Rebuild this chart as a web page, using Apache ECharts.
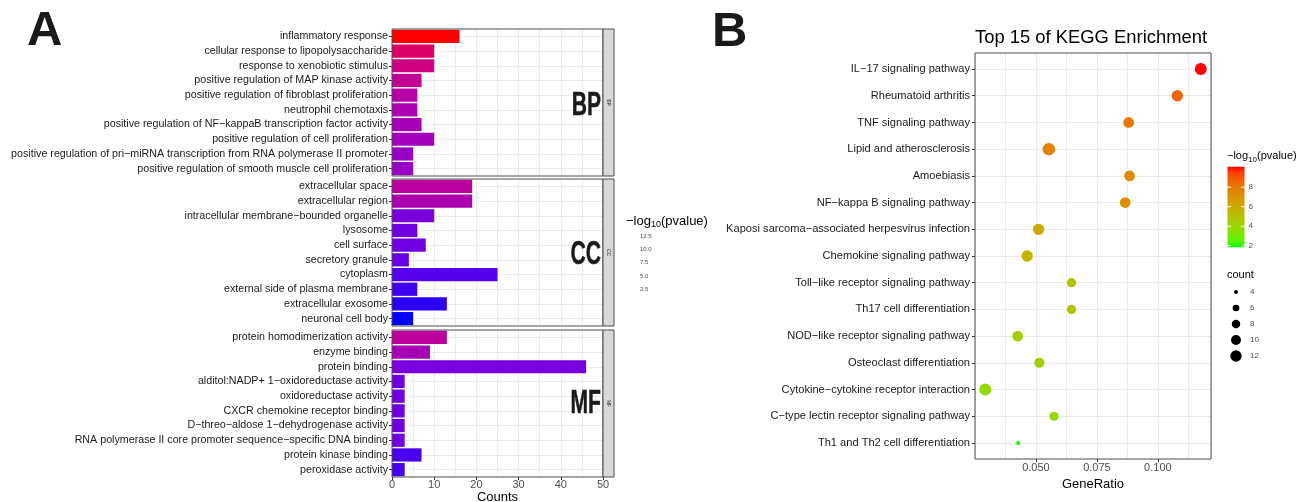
<!DOCTYPE html>
<html>
<head>
<meta charset="utf-8">
<script src="https://cdn.jsdelivr.net/npm/echarts@6/dist/echarts.min.js"></script>
<style>
  html, body { margin: 0; padding: 0; background: #fff; }
  #chart { width: 1297px; height: 502px; }
</style>
</head>
<body>
<div id="chart"></div>
<script>
// ---- panel A: GO terms, counts and -log10(p) per ontology ----
const bpTerms = [
  'inflammatory response',
  'cellular response to lipopolysaccharide',
  'response to xenobiotic stimulus',
  'positive regulation of MAP kinase activity',
  'positive regulation of fibroblast proliferation',
  'neutrophil chemotaxis',
  'positive regulation of NF\u2212kappaB transcription factor activity',
  'positive regulation of cell proliferation',
  'positive regulation of pri\u2212miRNA transcription from RNA polymerase II promoter',
  'positive regulation of smooth muscle cell proliferation'
];
const bpCounts = [16, 10, 10, 7, 6, 6, 7, 10, 5, 5];
const bpLogP = [13.4, 9.24, 7.81, 6.86, 5.90, 5.31, 5.07, 4.83, 4.36, 4.36];

const ccTerms = [
  'extracellular space',
  'extracellular region',
  'intracellular membrane\u2212bounded organelle',
  'lysosome',
  'cell surface',
  'secretory granule',
  'cytoplasm',
  'external side of plasma membrane',
  'extracellular exosome',
  'neuronal cell body'
];
const ccCounts = [19, 19, 10, 6, 8, 4, 25, 6, 13, 5];
const ccLogP = [6.26, 5.43, 3.17, 2.93, 2.93, 2.69, 2.33, 2.10, 1.92, 1.5];

const mfTerms = [
  'protein homodimerization activity',
  'enzyme binding',
  'protein binding',
  'alditol:NADP+ 1\u2212oxidoreductase activity',
  'oxidoreductase activity',
  'CXCR chemokine receptor binding',
  'D\u2212threo\u2212aldose 1\u2212dehydrogenase activity',
  'RNA polymerase II core promoter sequence\u2212specific DNA binding',
  'protein kinase binding',
  'peroxidase activity'
];
const mfCounts = [13, 9, 46, 3, 3, 3, 3, 3, 7, 3];
const mfLogP = [6.50, 5.07, 3.17, 2.93, 2.93, 2.93, 2.93, 2.93, 2.21, 2.15];

const legendATicks = [12.5, 10.0, 7.5, 5.0, 2.5];

// ---- panel B: KEGG pathways ----
const keggTerms = [
  'IL\u221217 signaling pathway',
  'Rheumatoid arthritis',
  'TNF signaling pathway',
  'Lipid and atherosclerosis',
  'Amoebiasis',
  'NF\u2212kappa B signaling pathway',
  'Kaposi sarcoma\u2212associated herpesvirus infection',
  'Chemokine signaling pathway',
  'Toll\u2212like receptor signaling pathway',
  'Th17 cell differentiation',
  'NOD\u2212like receptor signaling pathway',
  'Osteoclast differentiation',
  'Cytokine\u2212cytokine receptor interaction',
  'C\u2212type lectin receptor signaling pathway',
  'Th1 and Th2 cell differentiation'
];
const keggRatio = [0.1176, 0.108, 0.088, 0.0553, 0.0884, 0.0866, 0.0511, 0.0464, 0.0646, 0.0646, 0.0425, 0.0514, 0.0292, 0.0574, 0.0427];
const keggCount = [13, 12, 11, 14, 11, 11, 12, 12, 9, 9, 11, 10, 13, 9, 4];
const keggLogP = [10.1, 8.6, 8.05, 7.64, 7.31, 7.15, 6.0, 5.59, 5.02, 5.0, 4.36, 4.36, 3.7, 3.87, 1.84];

const ratioTicks = [0.05, 0.075, 0.1];
const legendBTicks = [8, 6, 4, 2];
const sizeTicks = [4, 6, 8, 10, 12];

// ---- helpers ----
const FONT = '"Liberation Sans", Arial, sans-serif';

// ggplot style gradient: interpolate in Lab space
function toLab(hex) {
  const lin = [1, 3, 5].map(i => parseInt(hex.substr(i, 2), 16) / 255)
    .map(c => c <= 0.04045 ? c / 12.92 : Math.pow((c + 0.055) / 1.055, 2.4));
  const [r, g, b] = lin;
  const x = (0.4124 * r + 0.3576 * g + 0.1805 * b) / 0.95047;
  const y = 0.2126 * r + 0.7152 * g + 0.0722 * b;
  const z = (0.0193 * r + 0.1192 * g + 0.9505 * b) / 1.08883;
  const f = t => t > 0.008856 ? Math.cbrt(t) : 7.787 * t + 16 / 116;
  return [116 * f(y) - 16, 500 * (f(x) - f(y)), 200 * (f(y) - f(z))];
}
function fromLab(lab) {
  const fy = (lab[0] + 16) / 116, fx = fy + lab[1] / 500, fz = fy - lab[2] / 200;
  const g = t => t * t * t > 0.008856 ? t * t * t : (t - 16 / 116) / 7.787;
  const x = g(fx) * 0.95047, y = g(fy), z = g(fz) * 1.08883;
  const rgb = [
    3.2406 * x - 1.5372 * y - 0.4986 * z,
    -0.9689 * x + 1.8758 * y + 0.0415 * z,
    0.0557 * x - 0.2040 * y + 1.0570 * z
  ].map(v => {
    v = Math.max(0, Math.min(1, v));
    v = v <= 0.0031308 ? 12.92 * v : 1.055 * Math.pow(v, 1 / 2.4) - 0.055;
    return Math.round(v * 255);
  });
  return 'rgb(' + rgb.join(',') + ')';
}
function labRamp(lo, hi, n) {
  const a = toLab(lo), b = toLab(hi);
  const out = [];
  for (let i = 0; i < n; i++) {
    const t = i / (n - 1);
    out.push(fromLab(a.map((v, k) => v + (b[k] - v) * t)));
  }
  return out;
}
const rampA = labRamp('#0000FF', '#FF0000', 15);
const rampB = labRamp('#00FF00', '#FF0000', 15);

// dot diameter from count (area scale)
const dotSize = c => Math.sqrt(Math.max(1, 14 * c - 40));

const ctx = document.createElement('canvas').getContext('2d');
function textW(str, size) {
  ctx.font = size + 'px ' + FONT;
  return ctx.measureText(str).width;
}

// ---- layout ----
const A_LEFT = 392, A_W = 211, A_H = 147;
const A_TOPS = [29, 179, 330];
const B_LEFT = 975, B_TOP = 53, B_W = 236, B_H = 406;

const facets = [
  {name: 'BP', terms: bpTerms, counts: bpCounts, logp: bpLogP, labelY: 106},
  {name: 'CC', terms: ccTerms, counts: ccCounts, logp: ccLogP, labelY: 255},
  {name: 'MF', terms: mfTerms, counts: mfCounts, logp: mfLogP, labelY: 404}
];

const grids = A_TOPS.map(t => ({left: A_LEFT, top: t, width: A_W, height: A_H, outerBoundsMode: 'none'}));
grids.push({left: B_LEFT, top: B_TOP, width: B_W, height: B_H, outerBoundsMode: 'none'});

const gridLine = {show: true, lineStyle: {color: '#EBEBEB', width: 1}};
const tickLine = {color: '#333'};

const xAxes = [];
facets.forEach((f, i) => {
  xAxes.push({
    type: 'value', gridIndex: i, position: 'bottom', min: 0, max: 50, interval: 5,
    splitLine: gridLine, axisLine: {show: false}, axisTick: {show: false}, axisLabel: {show: false}
  });
});
// labelled count axis under MF
xAxes.push({
  type: 'value', gridIndex: 2, position: 'bottom', min: 0, max: 50, interval: 10,
  splitLine: {show: false}, axisLine: {show: false},
  axisTick: {show: true, length: 3, lineStyle: tickLine},
  axisLabel: {fontSize: 11, color: '#4D4D4D', margin: 2, fontFamily: FONT},
  name: 'Counts', nameLocation: 'middle', nameGap: 13,
  nameTextStyle: {fontSize: 13, color: '#000', fontFamily: FONT}
});
// GeneRatio axis (grid lines) + labelled axis
xAxes.push({
  type: 'value', gridIndex: 3, position: 'bottom', min: 0.025, max: 0.1218, interval: 0.0125,
  splitLine: gridLine, axisLine: {show: false}, axisTick: {show: false}, axisLabel: {show: false}
});
xAxes.push({
  type: 'value', gridIndex: 3, position: 'bottom', min: 0.025, max: 0.1218, interval: 0.025,
  splitLine: {show: false}, axisLine: {show: false},
  axisTick: {show: true, length: 3, customValues: ratioTicks, lineStyle: tickLine},
  axisLabel: {fontSize: 11, color: '#4D4D4D', margin: 3, fontFamily: FONT,
    customValues: ratioTicks, formatter: v => v.toFixed(3)},
  name: 'GeneRatio', nameLocation: 'middle', nameGap: 15,
  nameTextStyle: {fontSize: 13, color: '#000', fontFamily: FONT}
});

const yAxes = facets.map((f, i) => ({
  type: 'category', gridIndex: i, data: f.terms, inverse: true,
  axisLine: {show: false},
  axisTick: {show: true, alignWithLabel: true, length: 3, lineStyle: tickLine},
  axisLabel: {fontSize: 10.7, color: '#1A1A1A', margin: 4, fontFamily: FONT, interval: 0},
  splitLine: {show: true, alignWithLabel: true, lineStyle: {color: '#EBEBEB', width: 1}}
}));
// discrete pathway axis with ggplot's 0.6 padding on both ends
const keggIdx = keggTerms.map((t, i) => i);
yAxes.push({
  type: 'value', gridIndex: 3, inverse: true, min: -0.6, max: keggTerms.length - 0.4,
  axisLine: {show: false},
  axisTick: {show: true, length: 3, customValues: keggIdx, lineStyle: tickLine},
  axisLabel: {fontSize: 11.1, color: '#1A1A1A', margin: 5, fontFamily: FONT,
    customValues: keggIdx, formatter: v => keggTerms[Math.round(v)]},
  splitLine: {show: true, lineStyle: {color: '#EBEBEB', width: 1}}
});

const series = facets.map((f, i) => ({
  type: 'bar', xAxisIndex: i, yAxisIndex: i,
  barWidth: '90%',
  encode: {x: 0, y: 1},
  data: f.terms.map((t, k) => [f.counts[k], t, f.logp[k]])
}));
series.push({
  type: 'scatter', xAxisIndex: 4, yAxisIndex: 3,
  encode: {x: 0, y: 1},
  itemStyle: {opacity: 1},
  symbolSize: v => dotSize(v[3]),
  data: keggTerms.map((t, k) => [keggRatio[k], k, keggLogP[k], keggCount[k]])
});

// ---- graphics: borders, strips, facet labels, legends ----
const g = [];

g.push({type: 'text', x: 27, y: 31, z: 20,
  style: {text: 'A', font: 'bold 49px ' + FONT, fill: '#1A1A1A', verticalAlign: 'middle'}});
g.push({type: 'text', x: 712, y: 32, z: 20,
  style: {text: 'B', font: 'bold 49px ' + FONT, fill: '#1A1A1A', verticalAlign: 'middle'}});

facets.forEach((f, i) => {
  const top = A_TOPS[i];
  g.push({type: 'rect', z: 20, shape: {x: A_LEFT, y: top, width: A_W, height: A_H},
    style: {fill: null, stroke: '#4D4D4D', lineWidth: 1}});
  g.push({type: 'rect', z: 20, shape: {x: A_LEFT + A_W, y: top, width: 11, height: A_H},
    style: {fill: '#D9D9D9', stroke: '#4D4D4D', lineWidth: 1}});
  g.push({type: 'text', z: 21, x: A_LEFT + A_W + 5.5, y: top + A_H / 2, rotation: -Math.PI / 2,
    style: {text: f.name, font: '5px ' + FONT, fill: '#1A1A1A', align: 'center', verticalAlign: 'middle'}});
  g.push({type: 'text', z: 21, x: 601, y: f.labelY, scaleX: 0.64,
    style: {text: f.name, font: 'bold 33px ' + FONT, fill: '#1A1A1A', stroke: '#1A1A1A', lineWidth: 0.5,
      align: 'right', verticalAlign: 'middle'}});
});

g.push({type: 'rect', z: 20, shape: {x: B_LEFT, y: B_TOP, width: B_W, height: B_H},
  style: {fill: null, stroke: '#4D4D4D', lineWidth: 1}});
g.push({type: 'text', z: 20, x: 975, y: 38,
  style: {text: 'Top 15 of KEGG Enrichment', font: '18.4px ' + FONT, fill: '#000', verticalAlign: 'middle'}});

// -log10(pvalue) title with subscript
function logTitle(x, y, size) {
  const sub = Math.round(size * 0.72);
  const w1 = textW('\u2212log', size), w2 = textW('10', sub);
  g.push({type: 'text', z: 20, x: x, y: y, style: {text: '\u2212log', font: size + 'px ' + FONT, fill: '#000', verticalAlign: 'middle'}});
  g.push({type: 'text', z: 20, x: x + w1, y: y + size * 0.3, style: {text: '10', font: sub + 'px ' + FONT, fill: '#000', verticalAlign: 'middle'}});
  g.push({type: 'text', z: 20, x: x + w1 + w2, y: y, style: {text: '(pvalue)', font: size + 'px ' + FONT, fill: '#000', verticalAlign: 'middle'}});
}

// legend A (labels only, as in the figure)
logTitle(626, 221, 13);
legendATicks.forEach((v, i) => {
  g.push({type: 'text', z: 20, x: 640, y: 236 + i * 13.3,
    style: {text: v.toFixed(1), font: '6px ' + FONT, fill: '#4D4D4D', verticalAlign: 'middle'}});
});

// legend B colour bar
const barX = 1227.5, barTop = 166.7, barH = 80.6, barW = 17;
const bMin = 1.84, bMax = 10.1;
logTitle(1227, 156, 11);
g.push({type: 'rect', z: 20, shape: {x: barX, y: barTop, width: barW, height: barH},
  style: {fill: {type: 'linear', x: 0, y: 1, x2: 0, y2: 0,
    colorStops: rampB.map((c, i) => ({offset: i / (rampB.length - 1), color: c}))}}});
legendBTicks.forEach(v => {
  const y = barTop + barH - (v - bMin) / (bMax - bMin) * barH;
  g.push({type: 'line', z: 21, shape: {x1: barX, y1: y, x2: barX + 3.5, y2: y}, style: {stroke: '#fff', lineWidth: 1}});
  g.push({type: 'line', z: 21, shape: {x1: barX + barW - 3.5, y1: y, x2: barX + barW, y2: y}, style: {stroke: '#fff', lineWidth: 1}});
  g.push({type: 'text', z: 20, x: barX + barW + 4, y: y,
    style: {text: String(v), font: '8px ' + FONT, fill: '#4D4D4D', verticalAlign: 'middle'}});
});

// legend B size
g.push({type: 'text', z: 20, x: 1227, y: 275, style: {text: 'count', font: '11px ' + FONT, fill: '#000', verticalAlign: 'middle'}});
sizeTicks.forEach((c, i) => {
  const y = 292 + i * 16;
  g.push({type: 'circle', z: 20, shape: {cx: 1236, cy: y, r: dotSize(c) / 2}, style: {fill: '#000'}});
  g.push({type: 'text', z: 20, x: 1250, y: y, style: {text: String(c), font: '8px ' + FONT, fill: '#4D4D4D', verticalAlign: 'middle'}});
});

const chart = echarts.init(document.getElementById('chart'));
chart.setOption({
  animation: false,
  backgroundColor: '#fff',
  textStyle: {fontFamily: FONT},
  grid: grids,
  xAxis: xAxes,
  yAxis: yAxes,
  visualMap: [
    {type: 'continuous', show: false, min: 1.5, max: 13.4, dimension: 2, seriesIndex: [0, 1, 2],
      inRange: {color: rampA}},
    {type: 'continuous', show: false, min: bMin, max: bMax, dimension: 2, seriesIndex: 3,
      inRange: {color: rampB}}
  ],
  series: series,
  graphic: {elements: g}
});
</script>
</body>
</html>
